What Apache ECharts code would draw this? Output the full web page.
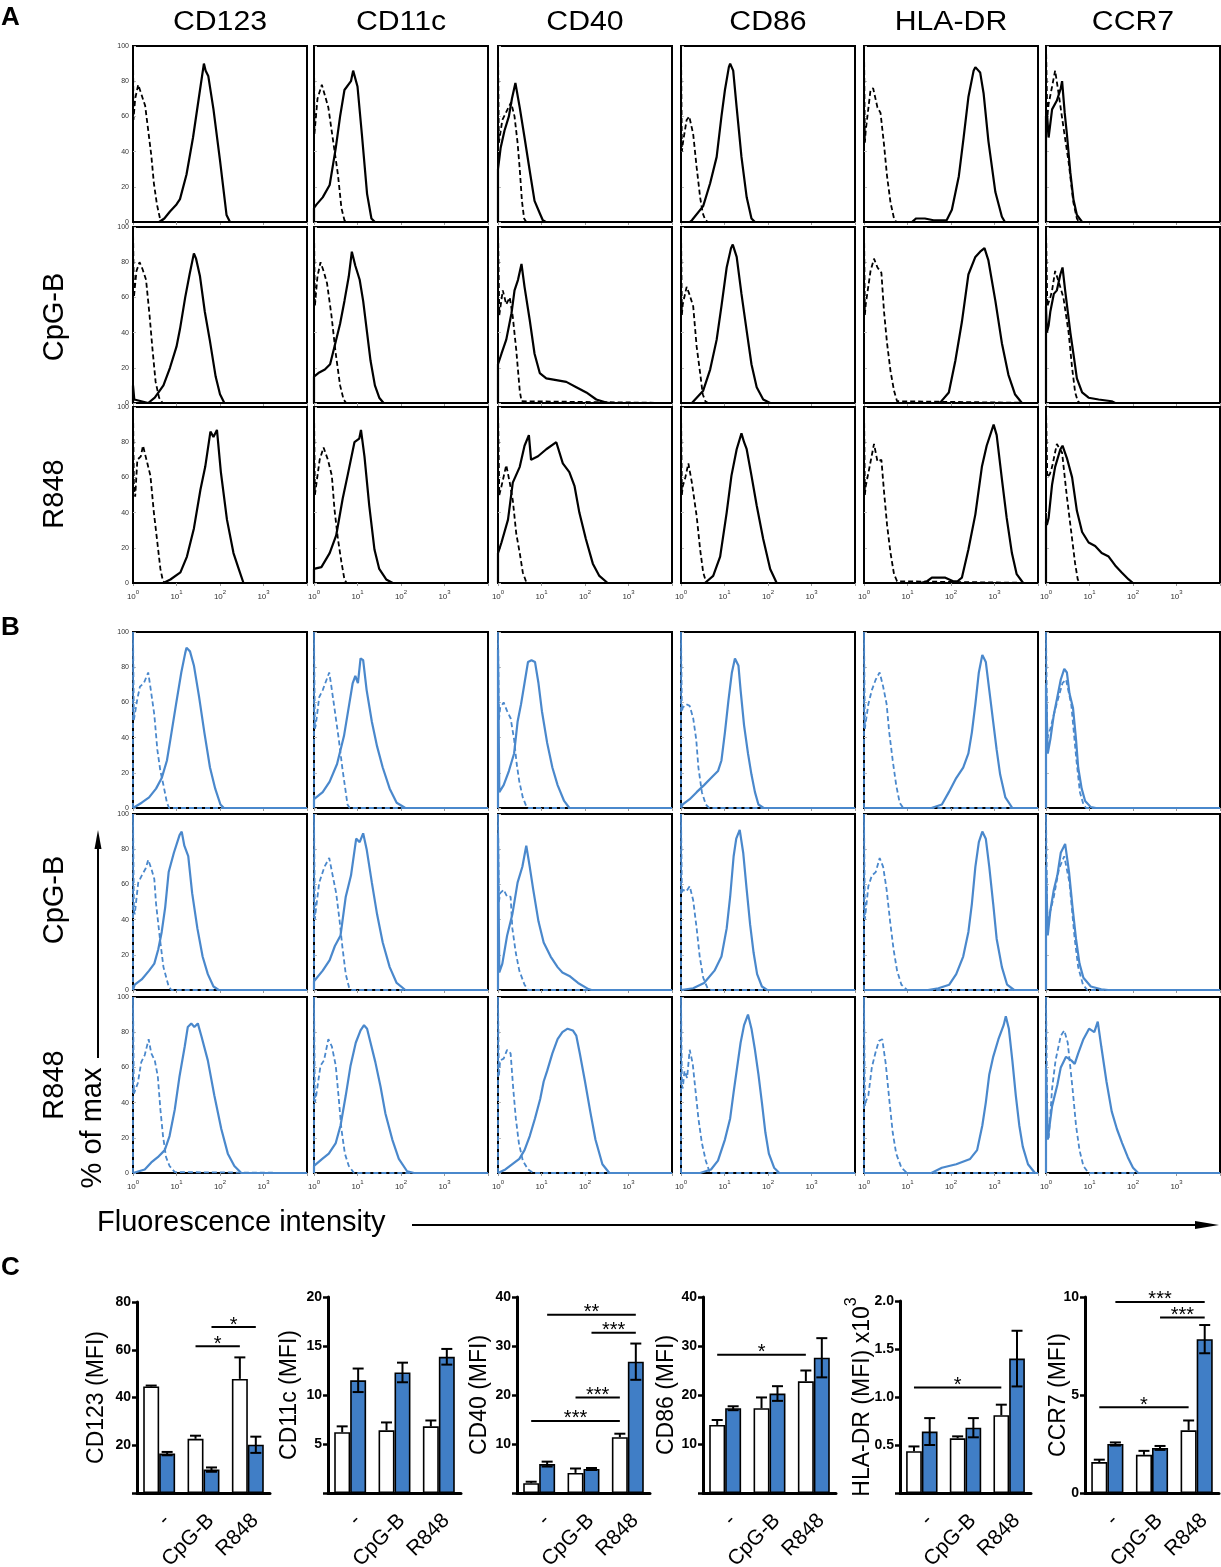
<!DOCTYPE html>
<html>
<head>
<meta charset="utf-8">
<script src="https://cdn.jsdelivr.net/npm/echarts@6/dist/echarts.min.js"></script>
<style>
html,body{margin:0;padding:0;background:#fff}
#main{width:1221px;height:1567px}
</style>
</head>
<body>
<div id="main"></div>
<script>
var FONT = '"Liberation Sans", Arial, Helvetica, sans-serif';

// ---- data ----
var markers = ['CD123', 'CD11c', 'CD40', 'CD86', 'HLA-DR', 'CCR7'];
var stimuli = ['-', 'CpG-B', 'R848'];
var decades = [0, 1, 2, 3];          // x positions in log10 units, shown as 10^n

// histograms: x = log10(fluorescence), y = % of max ; iso = dashed, stain = solid
var histA_medium = [
  {iso: [[0,0],[0,100],[0.01,58],[0.05,70],[0.12,78],[0.2,72],[0.28,66],[0.35,52],[0.42,38],[0.48,22],[0.55,10],[0.62,2],[0.7,0],[4,0]],
   stain: [[0,0],[0.6,0],[0.72,2],[0.85,6],[1.0,10],[1.08,13],[1.23,27],[1.38,48],[1.54,75],[1.63,90],[1.67,86],[1.73,83],[1.85,64],[2.0,35],[2.15,4],[2.23,0],[4,0]]},
  {iso: [[0,0],[0,100],[0.01,50],[0.08,70],[0.18,78],[0.25,72],[0.33,65],[0.44,46],[0.55,27],[0.63,8],[0.7,1],[0.75,0],[4,0]],
   stain: [[0,0],[0,8],[0.06,10],[0.2,14],[0.36,21],[0.5,42],[0.6,60],[0.7,75],[0.85,80],[0.9,86],[1.0,77],[1.1,50],[1.22,16],[1.32,2],[1.4,0],[4,0]]},
  {iso: [[0,0],[0,100],[0.02,45],[0.1,58],[0.2,63],[0.3,68],[0.38,60],[0.45,45],[0.5,30],[0.55,12],[0.6,2],[0.65,0],[4,0]],
   stain: [[0,0],[0,30],[0.06,42],[0.15,52],[0.25,60],[0.32,70],[0.4,79],[0.5,65],[0.61,48],[0.73,29],[0.84,12],[0.96,5],[1.03,1],[1.1,0],[4,0]]},
  {iso: [[0,0],[0,100],[0.02,40],[0.05,46],[0.13,58],[0.19,60],[0.28,50],[0.36,31],[0.44,14],[0.5,5],[0.56,1],[0.62,0],[4,0]],
   stain: [[0,0],[0.2,0],[0.25,1],[0.51,9],[0.67,22],[0.82,37],[0.93,60],[1.01,75],[1.1,88],[1.13,90],[1.2,86],[1.28,65],[1.39,37],[1.51,14],[1.62,2],[1.7,0],[4,0]]},
  {iso: [[0,0],[0,100],[0.02,45],[0.04,52],[0.15,75],[0.21,76],[0.31,65],[0.38,62],[0.46,44],[0.53,26],[0.61,11],[0.69,2],[0.74,0],[4,0]],
   stain: [[0,0],[1.1,0],[1.2,2],[1.4,2],[1.6,1],[1.9,1],[2.02,7],[2.18,26],[2.29,48],[2.4,71],[2.52,86],[2.56,88],[2.67,85],[2.75,73],[2.86,46],[3.02,17],[3.17,3],[3.24,0],[4,0]]},
  {iso: [[0,0],[0,100],[0.03,60],[0.06,67],[0.14,77],[0.21,86],[0.29,73],[0.4,54],[0.52,34],[0.63,11],[0.71,2],[0.76,0],[4,0]],
   stain: [[0,0],[0,60],[0.02,63],[0.06,48],[0.14,64],[0.25,69],[0.34,76],[0.37,80],[0.43,62],[0.48,50],[0.56,28],[0.63,13],[0.71,4],[0.83,0],[4,0]]}
];
var histA_cpg = [
  {iso: [[0,0],[0,100],[0.02,60],[0.08,75],[0.15,80],[0.22,76],[0.3,70],[0.38,50],[0.45,30],[0.52,12],[0.6,3],[0.68,0],[4,0]],
   stain: [[0,0],[0,10],[0.03,2],[0.35,0],[0.5,3],[0.7,10],[0.85,20],[1.0,32],[1.08,42],[1.2,60],[1.3,73],[1.4,85],[1.45,82],[1.54,72],[1.65,52],[1.77,35],[1.9,15],[2.0,5],[2.1,0],[4,0]]},
  {iso: [[0,0],[0,100],[0.02,55],[0.08,72],[0.15,80],[0.22,75],[0.3,68],[0.4,50],[0.5,28],[0.6,10],[0.68,2],[0.74,0],[4,0]],
   stain: [[0,0],[0,15],[0.1,17],[0.25,19],[0.37,22],[0.5,35],[0.6,45],[0.7,58],[0.8,72],[0.87,86],[0.95,78],[1.05,70],[1.13,58],[1.22,40],[1.3,24],[1.4,10],[1.5,3],[1.6,0],[4,0]]},
  {iso: [[0,0],[0,100],[0.03,50],[0.11,64],[0.19,56],[0.27,60],[0.34,49],[0.42,30],[0.5,7],[0.54,1],[0.58,0],[4,0]],
   stain: [[0,0],[0,22],[0.08,28],[0.19,36],[0.31,51],[0.38,64],[0.46,70],[0.54,79],[0.61,66],[0.73,47],[0.84,28],[0.96,17],[1.11,14],[1.34,13],[1.57,12],[1.8,9],[2.03,6],[2.26,2],[2.45,0.5],[2.56,0],[4,0]]},
  {iso: [[0,0],[0,100],[0.02,50],[0.04,56],[0.13,66],[0.19,62],[0.28,55],[0.36,32],[0.44,17],[0.5,5],[0.56,1],[0.62,0],[4,0]],
   stain: [[0,0],[0.25,0],[0.28,0.5],[0.51,7],[0.67,19],[0.82,36],[0.93,55],[1.05,77],[1.15,88],[1.19,90],[1.28,83],[1.39,62],[1.51,41],[1.62,22],[1.74,9],[1.89,2],[2.05,0],[4,0]]},
  {iso: [[0,0],[0,100],[0.02,50],[0.04,56],[0.15,75],[0.23,82],[0.31,77],[0.4,74],[0.46,52],[0.53,34],[0.61,18],[0.69,7],[0.76,1],[0.8,0],[4,0]],
   stain: [[0,0],[1.7,0],[1.76,0.5],[1.95,6],[2.1,24],[2.25,46],[2.4,73],[2.56,83],[2.67,86],[2.77,88],[2.86,81],[3.02,58],[3.17,34],[3.32,16],[3.47,5],[3.63,0],[4,0]]},
  {iso: [[0,0],[0,100],[0.03,55],[0.1,60],[0.14,64],[0.21,75],[0.29,69],[0.4,60],[0.52,40],[0.6,20],[0.67,6],[0.73,1],[0.78,0],[4,0]],
   stain: [[0,0],[0,55],[0.02,40],[0.06,44],[0.1,52],[0.18,62],[0.25,64],[0.33,73],[0.38,77],[0.44,64],[0.56,40],[0.63,28],[0.71,14],[0.83,6],[0.98,3],[1.21,2],[1.51,1],[1.59,0],[4,0]]}
];
var histA_r848 = [
  {iso: [[0,0],[0,100],[0.02,55],[0.05,49],[0.1,70],[0.18,72],[0.23,78],[0.33,68],[0.4,61],[0.48,40],[0.56,23],[0.63,8],[0.69,1],[0.74,0],[4,0]],
   stain: [[0,0],[0.7,0],[0.86,2],[1.09,6],[1.24,15],[1.4,31],[1.55,53],[1.66,66],[1.78,86],[1.85,83],[1.93,87],[2.02,63],[2.16,36],[2.31,17],[2.43,8],[2.54,0],[4,0]]},
  {iso: [[0,0],[0,100],[0.02,50],[0.04,49],[0.13,70],[0.22,77],[0.32,70],[0.41,61],[0.47,42],[0.55,25],[0.63,12],[0.7,2],[0.75,0],[4,0]],
   stain: [[0,0],[0,8],[0.17,9],[0.36,17],[0.51,27],[0.66,48],[0.78,62],[0.93,80],[1.04,82],[1.08,87],[1.16,72],[1.27,44],[1.39,19],[1.5,8],[1.66,2],[1.81,0],[4,0]]},
  {iso: [[0,0],[0,100],[0.03,50],[0.08,55],[0.19,67],[0.27,57],[0.34,47],[0.42,28],[0.5,17],[0.57,6],[0.65,0.5],[0.7,0],[4,0]],
   stain: [[0,0],[0,17],[0.08,23],[0.23,36],[0.34,57],[0.5,66],[0.61,78],[0.71,84],[0.76,70],[0.92,72],[1.11,76],[1.34,80],[1.49,68],[1.64,63],[1.76,55],[1.87,40],[2.02,25],[2.18,11],[2.33,4],[2.52,0],[4,0]]},
  {iso: [[0,0],[0,100],[0.02,50],[0.04,55],[0.1,60],[0.17,68],[0.25,57],[0.36,38],[0.44,19],[0.51,6],[0.57,1],[0.62,0],[4,0]],
   stain: [[0,0],[0.55,0],[0.74,4],[0.9,15],[1.05,40],[1.16,61],[1.28,76],[1.39,85],[1.45,80],[1.51,76],[1.62,61],[1.74,44],[1.89,25],[2.05,8],[2.2,0],[4,0]]},
  {iso: [[0,0],[0,100],[0.02,50],[0.04,55],[0.12,65],[0.23,79],[0.31,69],[0.4,70],[0.46,52],[0.53,33],[0.61,17],[0.69,5],[0.76,1],[0.8,0],[4,0]],
   stain: [[0,0],[1.3,0],[1.45,1],[1.56,3],[1.87,3],[2.05,1],[2.15,1],[2.25,3],[2.4,19],[2.56,39],[2.71,66],[2.82,78],[2.98,90],[3.05,84],[3.17,59],[3.28,37],[3.4,17],[3.51,5],[3.66,0],[4,0]]},
  {iso: [[0,0],[0,100],[0.03,60],[0.09,62],[0.14,66],[0.25,79],[0.37,74],[0.48,49],[0.6,25],[0.67,11],[0.73,2],[0.78,0],[4,0]],
   stain: [[0,0],[0,35],[0.02,33],[0.06,37],[0.14,56],[0.21,66],[0.33,76],[0.38,78],[0.48,71],[0.6,60],[0.71,41],[0.83,29],[0.98,23],[1.13,21],[1.28,17],[1.44,15],[1.59,10],[1.74,6],[1.9,2],[2.0,0],[4,0]]}
];
var histB_medium = [
  {iso: [[0,0],[0,100],[0.02,50],[0.04,49],[0.1,62],[0.16,69],[0.25,71],[0.35,77],[0.41,67],[0.49,53],[0.56,33],[0.63,21],[0.7,13],[0.78,3],[0.83,0],[4,0]],
   stain: [[0,0],[0.04,1],[0.2,3],[0.37,6],[0.53,11],[0.66,17],[0.78,27],[0.86,39],[0.99,59],[1.11,77],[1.2,88],[1.23,91],[1.31,89],[1.4,81],[1.52,63],[1.64,43],[1.77,23],[1.89,11],[2.01,2],[2.09,0],[4,0]]},
  {iso: [[0,0],[0,100],[0.02,45],[0.04,47],[0.12,63],[0.2,67],[0.35,77],[0.4,69],[0.48,55],[0.57,39],[0.65,23],[0.73,9],[0.77,2],[0.82,0],[4,0]],
   stain: [[0,0],[0,5],[0.04,5],[0.2,9],[0.36,15],[0.53,25],[0.69,41],[0.81,59],[0.89,71],[0.95,75],[1.01,71],[1.07,85],[1.13,84],[1.21,67],[1.33,49],[1.45,35],[1.58,23],[1.74,11],[1.9,3],[2.1,0],[4,0]]},
  {iso: [[0,0],[0,100],[0.02,50],[0.05,57],[0.13,60],[0.21,55],[0.29,51],[0.37,39],[0.43,25],[0.49,15],[0.57,6],[0.65,1],[0.7,0],[4,0]],
   stain: [[0,0],[0,90],[0.03,9],[0.13,13],[0.25,21],[0.37,31],[0.45,49],[0.53,59],[0.61,71],[0.69,83],[0.77,84],[0.85,83],[0.93,71],[1.01,55],[1.13,37],[1.25,23],[1.37,13],[1.52,4],[1.64,0],[4,0]]},
  {iso: [[0,0],[0,100],[0.02,55],[0.04,57],[0.12,59],[0.2,58],[0.28,51],[0.35,39],[0.4,23],[0.48,9],[0.57,2],[0.65,0],[4,0]],
   stain: [[0,0],[0.04,2],[0.2,5],[0.36,9],[0.53,13],[0.69,17],[0.85,21],[0.93,27],[1.01,43],[1.09,61],[1.17,77],[1.24,85],[1.32,81],[1.37,67],[1.45,47],[1.54,31],[1.62,19],[1.7,9],[1.78,2],[1.9,0],[4,0]]},
  {iso: [[0,0],[0,100],[0.02,45],[0.03,47],[0.1,59],[0.18,67],[0.27,73],[0.36,77],[0.44,69],[0.52,59],[0.58,43],[0.66,27],[0.74,13],[0.82,3],[0.9,0],[4,0]],
   stain: [[0,0],[1.55,0],[1.79,2],[1.95,9],[2.12,17],[2.28,23],[2.4,31],[2.48,43],[2.56,59],[2.64,77],[2.72,87],[2.8,83],[2.88,67],[2.97,49],[3.05,33],[3.13,19],[3.25,6],[3.41,0],[4,0]]},
  {iso: [[0,0],[0,100],[0.03,40],[0.1,45],[0.22,57],[0.38,71],[0.46,73],[0.58,59],[0.7,27],[0.78,9],[0.86,2],[0.92,0],[4,0]],
   stain: [[0,0],[0,70],[0.04,31],[0.1,39],[0.18,53],[0.26,63],[0.34,73],[0.42,79],[0.48,77],[0.54,65],[0.62,57],[0.69,39],[0.74,23],[0.82,11],[0.9,4],[1.03,0.5],[1.15,0],[4,0]]}
];
var histB_cpg = [
  {iso: [[0,0],[0,100],[0.02,45],[0.04,43],[0.12,61],[0.2,65],[0.29,69],[0.35,74],[0.42,69],[0.49,63],[0.53,49],[0.62,29],[0.7,13],[0.82,2],[0.88,0],[4,0]],
   stain: [[0,0],[0.04,3],[0.2,6],[0.37,11],[0.49,15],[0.58,23],[0.66,33],[0.74,47],[0.82,67],[0.94,78],[1.07,88],[1.12,90],[1.18,82],[1.27,76],[1.36,55],[1.48,35],[1.6,19],[1.72,9],[1.85,2],[1.97,0],[4,0]]},
  {iso: [[0,0],[0,100],[0.02,40],[0.04,45],[0.12,61],[0.24,70],[0.35,75],[0.43,65],[0.51,55],[0.59,39],[0.65,25],[0.73,9],[0.81,1],[0.86,0],[4,0]],
   stain: [[0,0],[0,5],[0.04,5],[0.2,11],[0.36,17],[0.48,25],[0.61,31],[0.73,53],[0.85,65],[0.97,86],[1.05,84],[1.13,89],[1.21,80],[1.33,61],[1.45,43],[1.58,27],[1.74,13],[1.9,4],[2.1,0],[4,0]]},
  {iso: [[0,0],[0,100],[0.02,50],[0.05,55],[0.13,57],[0.21,53],[0.29,53],[0.33,35],[0.41,21],[0.49,11],[0.61,3],[0.69,0],[4,0]],
   stain: [[0,0],[0,88],[0.03,10],[0.1,15],[0.21,31],[0.33,43],[0.45,61],[0.56,70],[0.65,82],[0.73,70],[0.81,57],[0.93,39],[1.05,27],[1.21,19],[1.37,13],[1.48,10],[1.64,8],[1.84,4],[2.08,0.5],[2.15,0],[4,0]]},
  {iso: [[0,0],[0,100],[0.02,55],[0.04,57],[0.12,56],[0.2,59],[0.28,51],[0.36,35],[0.43,19],[0.51,7],[0.61,1],[0.69,0],[4,0]],
   stain: [[0,0],[0.28,1],[0.53,4],[0.77,11],[0.93,19],[1.05,35],[1.13,53],[1.21,76],[1.27,86],[1.35,91],[1.43,78],[1.51,57],[1.59,37],[1.67,21],[1.75,9],[1.86,2],[1.98,0],[4,0]]},
  {iso: [[0,0],[0,100],[0.02,40],[0.03,41],[0.1,59],[0.18,65],[0.27,67],[0.36,75],[0.44,70],[0.52,57],[0.6,39],[0.68,23],[0.76,11],[0.86,3],[0.99,0],[4,0]],
   stain: [[0,0],[1.47,0],[1.71,1],[1.96,3],[2.12,9],[2.28,19],[2.4,33],[2.48,49],[2.56,70],[2.64,84],[2.72,90],[2.8,86],[2.88,70],[2.97,49],[3.05,29],[3.17,13],[3.29,3],[3.45,0],[4,0]]},
  {iso: [[0,0],[0,100],[0.03,40],[0.1,45],[0.18,53],[0.3,69],[0.42,76],[0.54,61],[0.66,29],[0.74,13],[0.85,3],[0.95,0],[4,0]],
   stain: [[0,0],[0,70],[0.04,31],[0.1,45],[0.18,57],[0.26,65],[0.34,78],[0.44,83],[0.53,67],[0.61,47],[0.69,29],[0.77,15],[0.86,7],[1.03,2],[1.27,0.4],[1.43,0],[4,0]]}
];
var histB_r848 = [
  {iso: [[0,0],[0,100],[0.02,45],[0.05,47],[0.11,51],[0.19,63],[0.27,67],[0.36,76],[0.42,68],[0.5,64],[0.57,55],[0.63,36],[0.69,21],[0.76,9],[0.84,4],[0.96,0.5],[1.0,0],[4,0]],
   stain: [[0,0],[0.04,1],[0.27,2],[0.42,6],[0.57,9],[0.73,13],[0.84,21],[0.96,36],[1.07,55],[1.19,72],[1.26,83],[1.34,85],[1.41,83],[1.49,85],[1.57,78],[1.72,64],[1.87,44],[2.03,25],[2.18,11],[2.33,4],[2.49,0],[4,0]]},
  {iso: [[0,0],[0,100],[0.02,40],[0.05,44],[0.15,61],[0.23,64],[0.33,76],[0.41,72],[0.5,61],[0.57,42],[0.63,25],[0.71,11],[0.8,4],[0.92,0],[4,0]],
   stain: [[0,0],[0,4],[0.04,4],[0.19,8],[0.34,11],[0.5,17],[0.61,27],[0.73,44],[0.84,61],[0.96,74],[1.07,81],[1.15,84],[1.22,82],[1.3,74],[1.41,63],[1.53,49],[1.64,34],[1.8,19],[1.95,8],[2.14,1],[2.3,0],[4,0]]},
  {iso: [[0,0],[0,100],[0.02,55],[0.05,64],[0.13,65],[0.21,70],[0.29,68],[0.35,48],[0.41,31],[0.48,17],[0.57,7],[0.69,2],[0.81,0],[4,0]],
   stain: [[0,0],[0.03,1],[0.17,2],[0.33,5],[0.49,8],[0.61,13],[0.73,21],[0.85,31],[0.97,42],[1.05,52],[1.13,58],[1.25,68],[1.37,76],[1.48,80],[1.6,82],[1.72,81],[1.8,78],[1.88,68],[2.0,52],[2.12,35],[2.24,19],[2.4,5],[2.56,0],[4,0]]},
  {iso: [[0,0],[0,100],[0.02,50],[0.04,48],[0.08,58],[0.14,54],[0.2,70],[0.27,62],[0.32,50],[0.4,31],[0.48,17],[0.57,7],[0.65,1],[0.7,0],[4,0]],
   stain: [[0,0],[0.44,0],[0.69,2],[0.85,7],[1.01,19],[1.13,31],[1.21,46],[1.29,60],[1.37,74],[1.45,84],[1.54,90],[1.62,82],[1.7,70],[1.78,56],[1.86,40],[1.94,23],[2.02,11],[2.14,3],[2.26,0],[4,0]]},
  {iso: [[0,0],[0,100],[0.02,38],[0.03,40],[0.1,44],[0.18,60],[0.26,68],[0.34,75],[0.42,76],[0.5,62],[0.58,42],[0.66,23],[0.74,11],[0.86,3],[0.99,0],[4,0]],
   stain: [[0,0],[1.55,0],[1.79,3],[2.12,5],[2.44,8],[2.6,13],[2.72,27],[2.8,40],[2.88,56],[2.97,66],[3.09,76],[3.21,84],[3.26,89],[3.33,82],[3.41,64],[3.49,44],[3.57,27],[3.65,15],[3.77,5],[3.93,0],[4,0]]},
  {iso: [[0,0],[0,100],[0.03,30],[0.06,19],[0.14,48],[0.22,64],[0.34,78],[0.42,81],[0.5,74],[0.61,48],[0.69,27],[0.77,13],[0.86,4],[0.95,1],[1.0,0],[4,0]],
   stain: [[0,0],[0,60],[0.04,19],[0.14,38],[0.26,50],[0.34,60],[0.46,66],[0.58,64],[0.66,62],[0.74,68],[0.86,76],[0.99,82],[1.11,80],[1.19,86],[1.27,72],[1.39,52],[1.51,35],[1.63,25],[1.75,17],[1.88,9],[2.0,3],[2.12,0],[4,0]]}
];

// panel C: MFI bars (white = first series, blue = second series), values per stimulus
var mfiNames = ['CD123 (MFI)', 'CD11c (MFI)', 'CD40 (MFI)', 'CD86 (MFI)', '{a|HLA-DR (MFI) x10}{s|3}', 'CCR7 (MFI)'];
var mfiMax = [80, 20, 40, 40, 2, 10];
var mfiStep = [20, 5, 10, 10, 0.5, 5];
var mfiWhite = [[44.6, 22.7, 47.8], [6.2, 6.4, 6.8], [2.0, 4.1, 11.4], [13.9, 17.3, 22.8], [0.435, 0.57, 0.81], [1.58, 1.95, 3.2]];
var mfiWhiteErr = [[0.4, 1.3, 9.0], [0.6, 0.8, 0.6], [0.3, 0.9, 0.7], [1.0, 2.2, 2.2], [0.05, 0.02, 0.11], [0.12, 0.2, 0.5]];
var mfiBlue = [[16.5, 9.8, 20.2], [11.5, 12.3, 13.9], [5.9, 4.9, 26.8], [17.3, 20.3, 27.6], [0.64, 0.68, 1.40], [2.5, 2.3, 7.85]];
var mfiBlueErr = [[0.7, 0.9, 3.4], [1.2, 1.0, 0.8], [0.5, 0.2, 3.7], [0.4, 1.5, 4.0], [0.14, 0.1, 0.29], [0.08, 0.1, 0.72]];
// significance bars: [fromGroup, fromSide(0 white,1 blue), toGroup, toSide, height, stars]
var mfiSig = [
  [[1, 0, 2, 0, 61.5, '*'], [1, 1, 2, 1, 69.5, '*']],
  [],
  [[0, 1, 2, 1, 36.4, '**'], [1, 1, 2, 1, 32.7, '***'], [1, 0, 2, 0, 19.5, '***'], [0, 0, 2, 0, 14.7, '***']],
  [[0, 0, 2, 0, 28.2, '*']],
  [[0, 0, 2, 0, 1.10, '*']],
  [[0, 1, 2, 1, 9.75, '***'], [1, 1, 2, 1, 8.95, '***'], [0, 0, 2, 0, 4.37, '*']]
];

// ---- layout ----
var colLeft = [133, 314, 498, 681, 864, 1046], colW = 174, rowH = 176;
var rowTopA = [46, 227, 407], rowTopB = [632, 814, 997];
var barGrid = [
  {left: 137, top: 1302, width: 133, height: 191},
  {left: 328, top: 1297, width: 133, height: 196},
  {left: 517, top: 1297, width: 133, height: 196},
  {left: 703, top: 1297, width: 133, height: 196},
  {left: 900, top: 1301, width: 131, height: 192},
  {left: 1085, top: 1297, width: 134, height: 196}
];
var barNameGap = [29, 27, 26, 25, 26, 15];
var BLUE = '#407ec6', HBLUE = '#4a88cc';
var HALF = 0.18;   // bar centre offset, fraction of category band

var grid = [], xAxis = [], yAxis = [], series = [];

function addHist(rows, tops, color) {
  rows.forEach(function (row, r) {
    row.forEach(function (h, c) {
      var k = grid.length;
      grid.push({left: colLeft[c], top: tops[r], width: colW, height: rowH, outerBoundsMode: 'none',
        show: true, borderColor: '#000', borderWidth: 2, backgroundColor: '#fff'});
      xAxis.push({type: 'value', gridIndex: k, min: 0, max: 4, interval: 1,
        axisLine: {show: false}, splitLine: {show: false},
        axisTick: {show: true, length: 3, lineStyle: {color: '#999'}},
        axisLabel: {show: r === 2, margin: 6, color: '#333',
          formatter: function (v) { return decades.indexOf(v) >= 0 ? '{b|10}{s|' + v + '}' : ''; },
          rich: {b: {fontSize: 8, color: '#333', lineHeight: 12, verticalAlign: 'bottom', fontFamily: FONT},
                 s: {fontSize: 6, color: '#333', lineHeight: 12, verticalAlign: 'top', fontFamily: FONT}}}});
      yAxis.push({type: 'value', gridIndex: k, min: 0, max: 100, interval: 20,
        axisLine: {show: false}, splitLine: {show: false},
        axisTick: {show: true, inside: true, length: 3, lineStyle: {color: '#bbb'}},
        axisLabel: {show: c === 0, fontSize: 7, color: '#333', margin: 4, fontFamily: FONT}});
      series.push({type: 'line', xAxisIndex: k, yAxisIndex: k, data: h.iso, symbol: 'none',
        lineStyle: {color: color, width: 1.8, type: [5, 3]}, silent: true});
      series.push({type: 'line', xAxisIndex: k, yAxisIndex: k, data: h.stain, symbol: 'none',
        lineStyle: {color: color, width: 2.2}, silent: true});
    });
  });
}
addHist([histA_medium, histA_cpg, histA_r848], rowTopA, '#000');
addHist([histB_medium, histB_cpg, histB_r848], rowTopB, HBLUE);

mfiNames.forEach(function (name, i) {
  var k = grid.length;
  var g = barGrid[i];
  grid.push({left: g.left, top: g.top, width: g.width, height: g.height, outerBoundsMode: 'none'});
  xAxis.push({type: 'category', gridIndex: k, data: stimuli,
    axisLine: {lineStyle: {color: '#000', width: 3}},
    axisTick: {alignWithLabel: true, length: 6, lineStyle: {color: '#000', width: 2.5}},
    axisLabel: {rotate: 45, interval: 0, fontSize: 21, color: '#000', margin: 17, verticalAlign: 'top', fontFamily: FONT}});
  yAxis.push({type: 'value', gridIndex: k, min: 0, max: mfiMax[i], interval: mfiStep[i],
    name: name, nameLocation: 'middle', nameGap: barNameGap[i], nameMoveOverlap: false,
    nameTextStyle: {fontSize: 23, color: '#000', fontFamily: FONT,
      rich: {a: {fontSize: 23, color: '#000', lineHeight: 30, verticalAlign: 'bottom', fontFamily: FONT},
             s: {fontSize: 16, color: '#000', lineHeight: 30, verticalAlign: 'top', fontFamily: FONT}}},
    axisLine: {show: true, lineStyle: {color: '#000', width: 3}},
    axisTick: {show: true, length: 5, lineStyle: {color: '#000', width: 2.5}},
    splitLine: {show: false},
    axisLabel: {fontSize: 14, fontWeight: 'bold', color: '#000', margin: 6, fontFamily: FONT,
      formatter: function (v) {
        if (v === 0 && i !== 5) return '';
        return mfiStep[i] < 1 ? v.toFixed(1) : String(v);
      }}});
  series.push({type: 'bar', xAxisIndex: k, yAxisIndex: k, data: mfiWhite[i], barWidth: '36%', barGap: '0%',
    itemStyle: {color: '#fff', borderColor: '#000', borderWidth: 1.6}, silent: true});
  series.push({type: 'bar', xAxisIndex: k, yAxisIndex: k, data: mfiBlue[i], barWidth: '36%', barGap: '0%',
    itemStyle: {color: BLUE, borderColor: '#000', borderWidth: 1.6}, silent: true});

  var errData = [];
  stimuli.forEach(function (s, j) {
    errData.push([j, mfiWhite[i][j], mfiWhiteErr[i][j], 0]);
    errData.push([j, mfiBlue[i][j], mfiBlueErr[i][j], 1]);
  });
  series.push({type: 'custom', xAxisIndex: k, yAxisIndex: k, data: errData, z: 5, silent: true,
    encode: {x: 0, y: 1},
    renderItem: function (params, api) {
      var gi = api.value(0), m = api.value(1), e = api.value(2), side = api.value(3);
      var band = api.size([1, 0])[0];
      var c = api.coord([gi, m]);
      var x = c[0] + (side ? 1 : -1) * band * HALF;
      var top = api.coord([gi, m + e])[1];
      var bot = side ? api.coord([gi, m - e])[1] : c[1];
      var cap = 5.5, st = {stroke: '#000', lineWidth: 2};
      var ch = [
        {type: 'line', shape: {x1: x, y1: top, x2: x, y2: bot}, style: st},
        {type: 'line', shape: {x1: x - cap, y1: top, x2: x + cap, y2: top}, style: st}
      ];
      if (side) ch.push({type: 'line', shape: {x1: x - cap, y1: bot, x2: x + cap, y2: bot}, style: st});
      return {type: 'group', children: ch};
    }});

  var sigs = mfiSig[i];
  if (sigs.length) {
    series.push({type: 'custom', xAxisIndex: k, yAxisIndex: k, z: 6, silent: true,
      data: sigs.map(function (s) { return [s[0], s[4]]; }),
      encode: {x: 0, y: 1},
      renderItem: function (params, api) {
        var s = sigs[params.dataIndex];
        var band = api.size([1, 0])[0];
        var a = api.coord([s[0], s[4]]), b = api.coord([s[2], s[4]]);
        var x1 = a[0] + (s[1] ? 1 : -1) * band * HALF;
        var x2 = b[0] + (s[3] ? 1 : -1) * band * HALF;
        return {type: 'group', children: [
          {type: 'line', shape: {x1: x1, y1: a[1], x2: x2, y2: a[1]}, style: {stroke: '#000', lineWidth: 2}},
          {type: 'text', style: {text: s[5], x: (x1 + x2) / 2, y: a[1] - 2, textAlign: 'center',
            textVerticalAlign: 'middle', font: '20px ' + FONT, fill: '#000'}}
        ]};
      }});
  }
});

// ---- free text, arrows ----
function txt(text, x, y, size, o) {
  o = o || {};
  return {type: 'text', x: x, y: y, rotation: o.rot || 0, scaleX: o.sx || 1, silent: true,
    style: {text: text, font: (o.bold ? 'bold ' : '') + size + 'px ' + FONT, fill: '#000',
      textAlign: o.align || 'center', textVerticalAlign: 'middle'}};
}
var graphic = [
  txt('A', 1, 18, 26, {bold: true, align: 'left'}),
  txt('B', 1, 628, 26, {bold: true, align: 'left'}),
  txt('C', 1, 1268, 26, {bold: true, align: 'left'}),
  txt('CpG-B', 55, 317, 29, {rot: Math.PI / 2}),
  txt('R848', 55, 494, 29, {rot: Math.PI / 2}),
  txt('CpG-B', 55, 900, 29, {rot: Math.PI / 2}),
  txt('R848', 55, 1085, 29, {rot: Math.PI / 2}),
  txt('% of max', 93, 1128, 29, {rot: Math.PI / 2}),
  txt('Fluorescence intensity', 97, 1223, 29, {align: 'left'}),
  {type: 'line', silent: true, shape: {x1: 98, y1: 1058, x2: 98, y2: 846}, style: {stroke: '#000', lineWidth: 2}},
  {type: 'polygon', silent: true, shape: {points: [[98, 830], [94.5, 849], [101.5, 849]]}, style: {fill: '#000'}},
  {type: 'line', silent: true, shape: {x1: 412, y1: 1225, x2: 1200, y2: 1225}, style: {stroke: '#000', lineWidth: 2}},
  {type: 'polygon', silent: true, shape: {points: [[1219, 1225], [1195, 1221], [1195, 1229]]}, style: {fill: '#000'}}
];
markers.forEach(function (m, c) {
  graphic.push(txt(m, colLeft[c] + colW / 2, 23, 27, {sx: 1.12}));
});

var chart = echarts.init(document.getElementById('main'));
chart.setOption({
  animation: false,
  backgroundColor: '#fff',
  textStyle: {fontFamily: FONT},
  grid: grid,
  xAxis: xAxis,
  yAxis: yAxis,
  series: series,
  graphic: graphic
});
</script>
</body>
</html>
